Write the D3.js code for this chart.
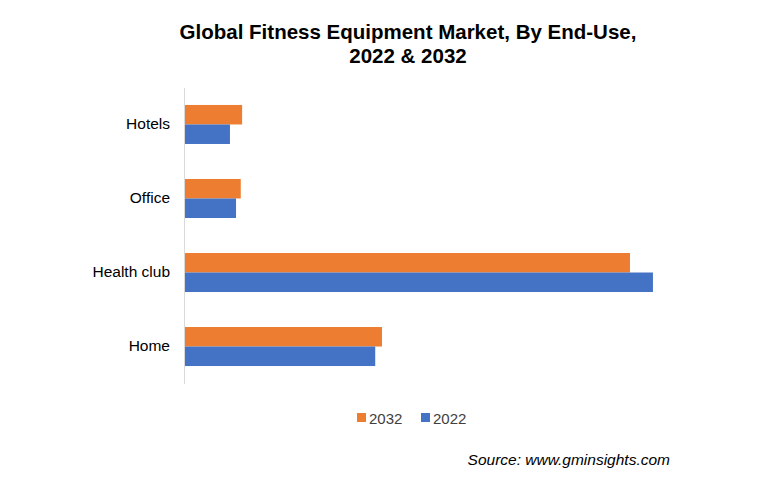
<!DOCTYPE html>
<html>
<head>
<meta charset="utf-8">
<script src="https://cdn.jsdelivr.net/npm/d3@7"></script>
<style>
  body { margin: 0; background: #fff; }
  text { font-family: "Liberation Sans", Arial, sans-serif; }
</style>
</head>
<body>
<div id="wrapper"></div>
<script>
// data (USD billion)
const categories = ['Hotels', 'Office', 'Health club', 'Home']
const years = ['2032', '2022']
const values2032 = [0.86, 0.84, 6.6, 2.93]
const values2022 = [0.68, 0.77, 6.94, 2.83]
const colors = ['#ED7D31', '#4472C4']

const width = 775
const height = 493
const margin = { left: 184, top: 87.5 }
const boundedHeight = 296

const svg = d3.select('#wrapper')
  .append('svg')
  .attr('width', width)
  .attr('height', height)

// title
const title = svg.append('text')
  .attr('text-anchor', 'middle')
  .style('font-size', '20.5px')
  .style('font-weight', 'bold')
  .attr('fill', '#000')
title.append('tspan').attr('x', 408).attr('y', 39).text('Global Fitness Equipment Market, By End-Use,')
title.append('tspan').attr('x', 408).attr('y', 63).text('2022 & 2032')

const bounds = svg.append('g')
  .attr('transform', `translate(${margin.left}, ${margin.top})`)

const yScale = d3.scaleBand()
  .domain(categories)
  .range([0, boundedHeight])
  .paddingInner(0.473)
  .paddingOuter(0.236)

const ySub = d3.scaleBand()
  .domain(years)
  .range([0, yScale.bandwidth()])

const xScale = d3.scaleLinear()
  .domain([0, 7])
  .range([0, 473])

const rows = categories.map((c, i) => ({
  category: c,
  values: [
    { year: '2032', value: values2032[i] },
    { year: '2022', value: values2022[i] },
  ],
}))

const groups = bounds.selectAll('g.cat')
  .data(rows)
  .enter()
  .append('g')
  .attr('class', 'cat')
  .attr('transform', (d) => `translate(0, ${yScale(d.category)})`)

groups.selectAll('rect')
  .data((d) => d.values)
  .enter()
  .append('rect')
  .attr('x', 0)
  .attr('y', (d) => ySub(d.year))
  .attr('width', (d) => xScale(d.value))
  .attr('height', ySub.bandwidth())
  .attr('fill', (d, i) => colors[i])

// y axis: just the line and labels
const yAxis = bounds.append('g')
  .call(d3.axisLeft(yScale).tickSize(0).tickPadding(14))
yAxis.select('.domain').attr('stroke', '#d9d9d9').attr('stroke-width', 1)
yAxis.selectAll('text')
  .style('font-size', '15.5px')
  .style('font-family', '"Liberation Sans", Arial, sans-serif')
  .attr('fill', '#000')

// legend
const legend = svg.append('g').attr('transform', 'translate(357, 418)')
const legendItems = legend.selectAll('g')
  .data(years)
  .enter()
  .append('g')
  .attr('transform', (d, i) => `translate(${i * 64}, 0)`)
legendItems.append('rect')
  .attr('x', 0).attr('y', -5)
  .attr('width', 9).attr('height', 9)
  .attr('fill', (d, i) => colors[i])
legendItems.append('text')
  .attr('x', 12).attr('y', 5.5)
  .style('font-size', '15px')
  .attr('fill', '#404040')
  .text((d) => d)

// source
svg.append('text')
  .attr('x', 670)
  .attr('y', 465)
  .attr('text-anchor', 'end')
  .style('font-size', '15.5px')
  .style('font-style', 'italic')
  .attr('fill', '#000')
  .text('Source: www.gminsights.com')
</script>
</body>
</html>
